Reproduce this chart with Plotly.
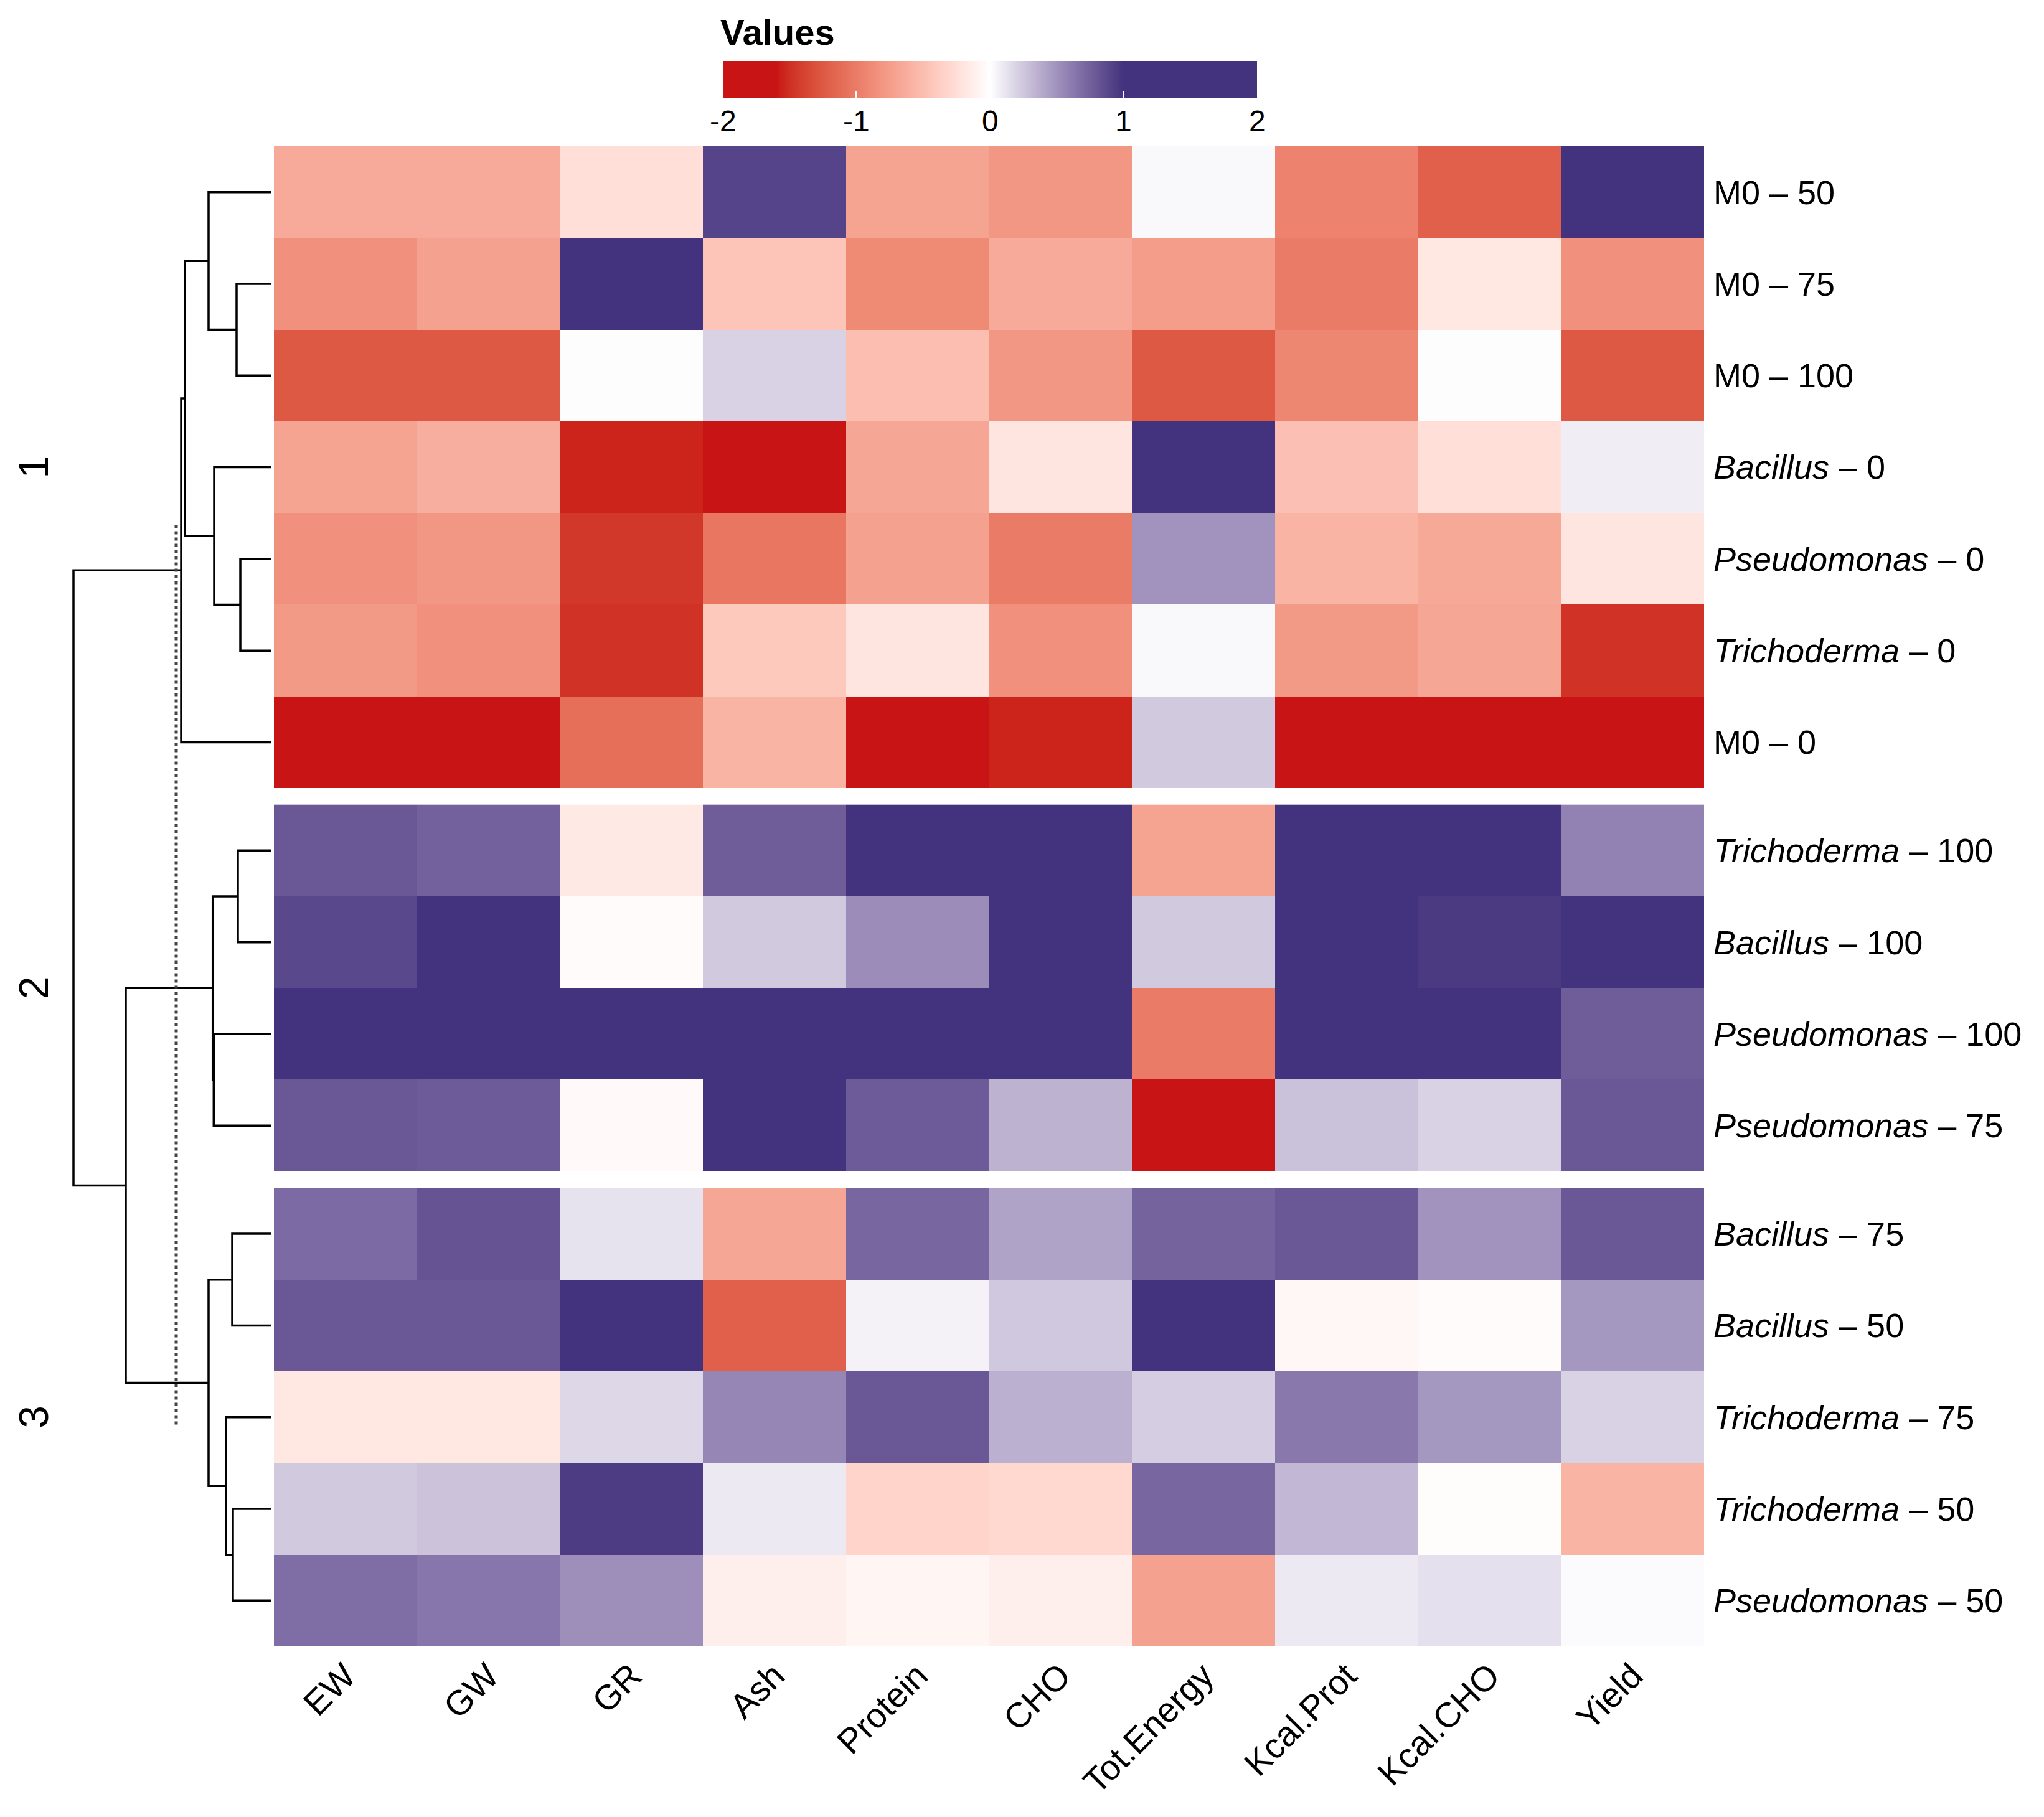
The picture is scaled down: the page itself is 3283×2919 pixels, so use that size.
import numpy as np
import plotly.graph_objects as go

# Data
col_names = ["EW", "GW", "GR", "Ash", "Protein", "CHO", "Tot.Energy",
             "Kcal.Prot", "Kcal.CHO", "Yield"]

row_names = [
    "M0 – 50", "M0 – 75", "M0 – 100", "<i>Bacillus</i> – 0",
    "<i>Pseudomonas</i> – 0", "<i>Trichoderma</i> – 0", "M0 – 0",
    "<i>Trichoderma</i> – 100", "<i>Bacillus</i> – 100",
    "<i>Pseudomonas</i> – 100", "<i>Pseudomonas</i> – 75",
    "<i>Bacillus</i> – 75", "<i>Bacillus</i> – 50", "<i>Trichoderma</i> – 75",
    "<i>Trichoderma</i> – 50", "<i>Pseudomonas</i> – 50",
]

group_sizes = [7, 4, 5]
group_titles = ["1", "2", "3"]

# scaled values, one row per treatment (same order as row_names)
values = [
    [-0.65, -0.65, -0.25, 0.90, -0.70, -0.80, 0.03, -0.95, -1.20, 1.30],
    [-0.85, -0.72, 1.30, -0.45, -0.90, -0.65, -0.75, -1.00, -0.18, -0.85],
    [-1.25, -1.25, 0.01, 0.20, -0.50, -0.80, -1.25, -0.92, 0.01, -1.25],
    [-0.70, -0.62, -1.55, -1.80, -0.68, -0.20, 1.20, -0.48, -0.25, 0.08],
    [-0.85, -0.80, -1.45, -1.05, -0.72, -1.00, 0.50, -0.58, -0.66, -0.20],
    [-0.78, -0.85, -1.48, -0.42, -0.20, -0.85, 0.03, -0.78, -0.68, -1.48],
    [-1.90, -1.90, -1.10, -0.58, -1.85, -1.55, 0.24, -1.90, -1.90, -1.85],
    [0.80, 0.75, -0.17, 0.77, 1.30, 1.30, -0.70, 1.40, 1.40, 0.58],
    [0.88, 1.20, -0.03, 0.24, 0.53, 1.30, 0.24, 1.50, 0.96, 1.30],
    [1.50, 1.50, 1.40, 1.50, 1.50, 1.40, -1.00, 1.50, 1.50, 0.77],
    [0.80, 0.78, -0.04, 1.30, 0.78, 0.35, -1.80, 0.28, 0.20, 0.80],
    [0.70, 0.82, 0.13, -0.68, 0.72, 0.42, 0.74, 0.80, 0.50, 0.80],
    [0.80, 0.80, 1.20, -1.20, 0.06, 0.25, 1.30, -0.06, -0.03, 0.48],
    [-0.18, -0.18, 0.18, 0.56, 0.80, 0.36, 0.22, 0.63, 0.48, 0.20],
    [0.24, 0.27, 0.95, 0.10, -0.33, -0.30, 0.72, 0.32, -0.02, -0.58],
    [0.68, 0.64, 0.52, -0.12, -0.07, -0.12, -0.72, 0.10, 0.14, 0.02],
]

# row dendrogram: merge i joins merge_left[i] and merge_right[i] at merge_height[i]
# ids 0..15 are rows, id 16+i is the node made by merge i
merge_left = [1, 0, 4, 3, 17, 20, 7, 9, 22, 11, 14, 13, 25, 24, 21]
merge_right = [2, 16, 5, 18, 19, 6, 8, 10, 23, 12, 15, 26, 27, 28, 29]
merge_height = [56, 101, 50, 92, 139, 145, 54, 92.7, 94.3, 63, 62, 73, 101, 234, 318]
cut_height = 153
cut_span = [4.13, 13.96]

# colour mapping (breaks -> colours), interpolated in LAB like colorRamp2
col_breaks = [-1.6, 0, 1.0]
col_colors = ["#C81414", "#FFFFFF", "#43327D"]
legend_ticks = [-2, -1, 0, 1, 2]
legend_labels = ["-2", "-1", "0", "1", "2"]

# page has an 8px body margin; the figure is sized so nothing scrolls
W, H = 3283, 2919
OFF = 8
FW, FH = W - 2 * OFF, H - 2 * OFF
gap = 0.18
cb_left, cb_len = 1161, 858


def px(x):
    return (x - OFF) / FW


def py(y):
    return 1 - (y - OFF) / FH


def hex_to_lab(h):
    c = np.array([int(h[i:i + 2], 16) for i in (1, 3, 5)]) / 255
    c = np.where(c <= 0.04045, c / 12.92, ((c + 0.055) / 1.055) ** 2.4)
    m = np.array([[0.4124, 0.3576, 0.1805], [0.2126, 0.7152, 0.0722], [0.0193, 0.1192, 0.9505]])
    xyz = m @ c / np.array([0.95047, 1.0, 1.08883])
    f = np.where(xyz > (6 / 29) ** 3, np.cbrt(xyz), xyz / (3 * (6 / 29) ** 2) + 4 / 29)
    return np.array([116 * f[1] - 16, 500 * (f[0] - f[1]), 200 * (f[1] - f[2])])


def lab_to_rgb(lab):
    fy = (lab[0] + 16) / 116
    f = np.array([fy + lab[1] / 500, fy, fy - lab[2] / 200])
    xyz = np.where(f > 6 / 29, f ** 3, 3 * (6 / 29) ** 2 * (f - 4 / 29)) * np.array([0.95047, 1.0, 1.08883])
    mi = np.array([[3.2406, -1.5372, -0.4986], [-0.9689, 1.8758, 0.0415], [0.0557, -0.2040, 1.0570]])
    c = np.clip(mi @ xyz, 0, 1)
    c = np.where(c <= 0.0031308, 12.92 * c, 1.055 * c ** (1 / 2.4) - 0.055)
    r, g, b = (np.clip(c, 0, 1) * 255).round().astype(int)
    return f"rgb({r},{g},{b})"


labs = [hex_to_lab(c) for c in col_colors]
colorscale = []
for v in np.linspace(-2, 2, 101):
    if v <= col_breaks[0]:
        lab = labs[0]
    elif v >= col_breaks[-1]:
        lab = labs[-1]
    else:
        k = 0 if v < col_breaks[1] else 1
        t = (v - col_breaks[k]) / (col_breaks[k + 1] - col_breaks[k])
        lab = labs[k] + t * (labs[k + 1] - labs[k])
    colorscale.append([(v + 2) / 4, lab_to_rgb(lab)])

# row positions with gaps between the split groups
y_pos = []
for g, n in enumerate(group_sizes):
    start = sum(group_sizes[:g])
    y_pos += [start + i + 0.5 + g * gap for i in range(n)]
y_total = len(row_names) + gap * (len(group_sizes) - 1)

fig = go.Figure()

z = np.array(values)
for g, n in enumerate(group_sizes):
    s = sum(group_sizes[:g])
    fig.add_trace(go.Heatmap(
        z=z[s:s + n], x=list(range(len(col_names))), y=y_pos[s:s + n],
        coloraxis="coloraxis", xaxis="x", yaxis="y",
        text=[[n_] * len(col_names) for n_ in row_names[s:s + n]],
        hovertemplate="%{text}<br>%{x}<br>%{z}<extra></extra>",
    ))

# dendrogram segments
node_y = list(y_pos)
node_h = [0.0] * len(row_names)
dx, dy = [], []
for l, r, h in zip(merge_left, merge_right, merge_height):
    dx += [node_h[l], h, h, node_h[r], None]
    dy += [node_y[l], node_y[l], node_y[r], node_y[r], None]
    node_y.append((node_y[l] + node_y[r]) / 2)
    node_h.append(h)

fig.add_trace(go.Scatter(x=dx, y=dy, mode="lines", xaxis="x2", yaxis="y",
                         line=dict(color="black", width=3.5), hoverinfo="skip",
                         showlegend=False))
fig.add_trace(go.Scatter(x=[cut_height, cut_height], y=cut_span, mode="lines",
                         xaxis="x2", yaxis="y",
                         line=dict(color="#444444", width=5, dash="dot"),
                         hoverinfo="skip", showlegend=False))

# group titles
for g, title in enumerate(group_titles):
    s = sum(group_sizes[:g])
    fig.add_annotation(text=title, x=px(54), xref="paper", xanchor="center",
                       y=np.mean(y_pos[s:s + group_sizes[g]]), yref="y",
                       yanchor="middle", textangle=-90, showarrow=False,
                       font=dict(size=66, color="black"))

# legend title and labels
fig.add_annotation(text="<b>Values</b>", x=px(1155), xref="paper", xanchor="left",
                   y=py(52), yref="paper", yanchor="middle", showarrow=False,
                   font=dict(size=58, color="black"))
for v, lab in zip(legend_ticks, legend_labels):
    fig.add_annotation(text=lab, x=px(cb_left + (v + 2) / 4 * cb_len), xref="paper",
                       xanchor="center", y=py(194), yref="paper", yanchor="middle",
                       showarrow=False, font=dict(size=48, color="black"))

fig.update_layout(
    width=FW, height=FH,
    margin=dict(l=0, r=0, t=0, b=0),
    paper_bgcolor="white", plot_bgcolor="white",
    font=dict(family="Liberation Sans, Arial, sans-serif", color="black"),
    showlegend=False,
    coloraxis=dict(
        cmin=-2, cmax=2, colorscale=colorscale,
        colorbar=dict(
            orientation="h", x=px(cb_left), xanchor="left",
            y=py(98), yanchor="top",
            lenmode="pixels", len=cb_len, thicknessmode="pixels", thickness=60,
            xpad=0, ypad=0, outlinewidth=0,
            tickvals=legend_ticks, showticklabels=False,
            ticks="inside", ticklen=12, tickcolor="white", tickwidth=3,
        ),
    ),
    xaxis=dict(
        domain=[px(440), px(2737)], range=[-0.5, len(col_names) - 0.5],
        tickvals=list(range(len(col_names))), ticktext=col_names,
        tickangle=-45, tickfont=dict(size=56), ticks="",
        showgrid=False, zeroline=False, showline=False, anchor="y",
        ticklabelstandoff=2,
    ),
    yaxis=dict(
        domain=[py(2645), py(235)], range=[y_total, 0],
        tickvals=y_pos, ticktext=row_names, side="right",
        tickfont=dict(size=54), ticks="", showgrid=False, zeroline=False,
        showline=False, anchor="x", ticklabelstandoff=14,
    ),
    xaxis2=dict(domain=[0, px(436)], range=[436 - OFF, 0], visible=False, anchor="y"),
)

fig.write_html("out.html")
